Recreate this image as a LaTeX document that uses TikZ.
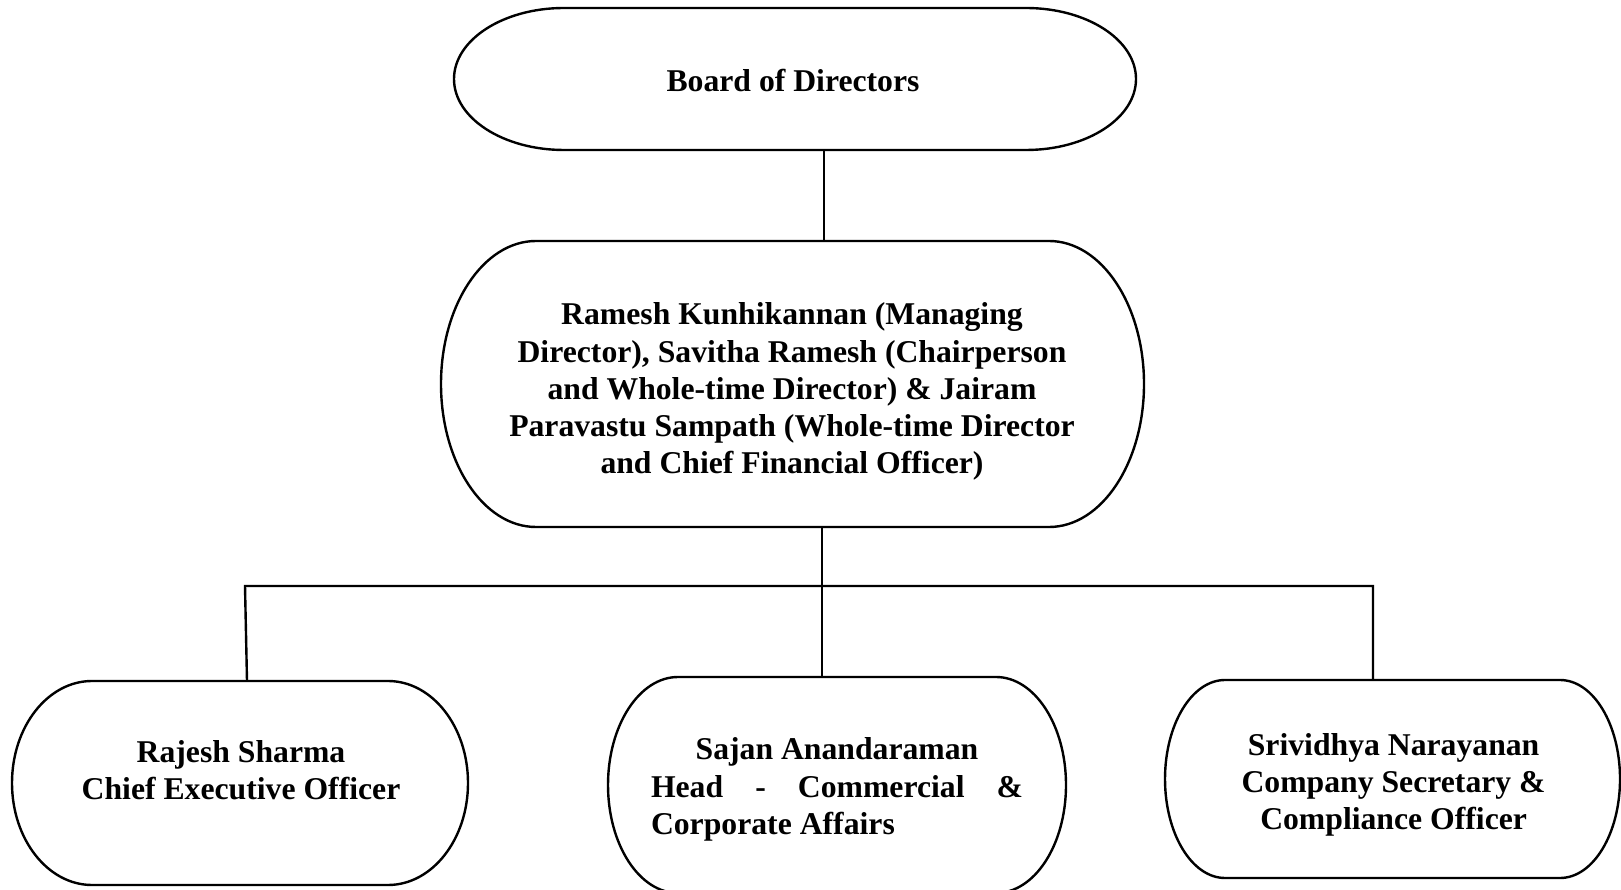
\documentclass[tikz,border=0pt]{standalone}
\usepackage{fontspec}
\setmainfont{Liberation Serif}
\usetikzlibrary{calc}
\tikzset{
  box/.style={draw=none, inner sep=0pt, outer sep=0pt},
  outline/.style={draw=black, line width=1.2pt},
  conn/.style={draw=black, line width=1.2pt},
  txt/.style={inner sep=0pt, align=center, font=\fontsize{15.85}{18.6}\selectfont\bfseries}
}
\newcommand\capsule[2]{%
  \draw[outline] let \p1=(#1.north east), \p2=(#1.south west), \n1={(\y1-\y2)/2} in
    (\x2+#2,\y1) -- (\x1-#2,\y1)
    arc[start angle=90,end angle=-90,x radius=#2,y radius=\n1]
    -- (\x2+#2,\y2)
    arc[start angle=270,end angle=90,x radius=#2,y radius=\n1] -- cycle;}
\begin{document}
\begin{tikzpicture}[x=1pt,y=1pt]
\useasboundingbox (0,0) rectangle (810.5,444.5);
% shapes
\node[box, minimum width=341pt, minimum height=71pt] (board) at (397.5,405) {};
\node[box, minimum width=351.5pt, minimum height=143pt] (md) at (396.25,252.5) {};
\node[box, minimum width=228pt, minimum height=102pt] (ceo) at (120,53) {};
\node[box, minimum width=229pt, minimum height=108pt] (head) at (418.5,52) {};
\node[box, minimum width=227.5pt, minimum height=99pt] (cs) at (696.25,55) {};
\capsule{board}{55pt}
\capsule{md}{47.5pt}
\capsule{ceo}{40pt}
\capsule{head}{35pt}
\capsule{cs}{30pt}
% texts
\node[txt] (board-t) at (396.5,404.2) {Board of Directors};
\node[txt] (md-t) at (396,248.7) {Ramesh Kunhikannan (Managing\\Director), Savitha Ramesh (Chairperson\\and Whole-time Director) \& Jairam\\Paravastu Sampath (Whole-time Director\\and Chief Financial Officer)};
\node[txt] (ceo-t) at (120.5,59.5) {Rajesh Sharma\\Chief Executive Officer};
\node[txt] (head-t) at (418.5,49.8) {\makebox[186pt]{Sajan Anandaraman}\\\makebox[186pt][s]{Head\hfill-\hfill Commercial\hfill\&}\\\makebox[186pt][l]{Corporate Affairs}};
\node[txt] (cs-t) at (696.8,52) {Srividhya Narayanan\\Company Secretary \&\\Compliance Officer};
% connectors
\coordinate (busL) at (122.5,151.5);
\coordinate (busR) at (686.5,151.5);
\draw[conn] (board.south -| 412,0) -- (md.north -| 412,0);
\draw[conn] (md.south -| 411,0) -- (head.north -| 411,0);
\draw[conn] (ceo.north -| 123.5,0) -- (busL) -- (busR) -- (cs.north -| 686.5,0);
\end{tikzpicture}
\end{document}
